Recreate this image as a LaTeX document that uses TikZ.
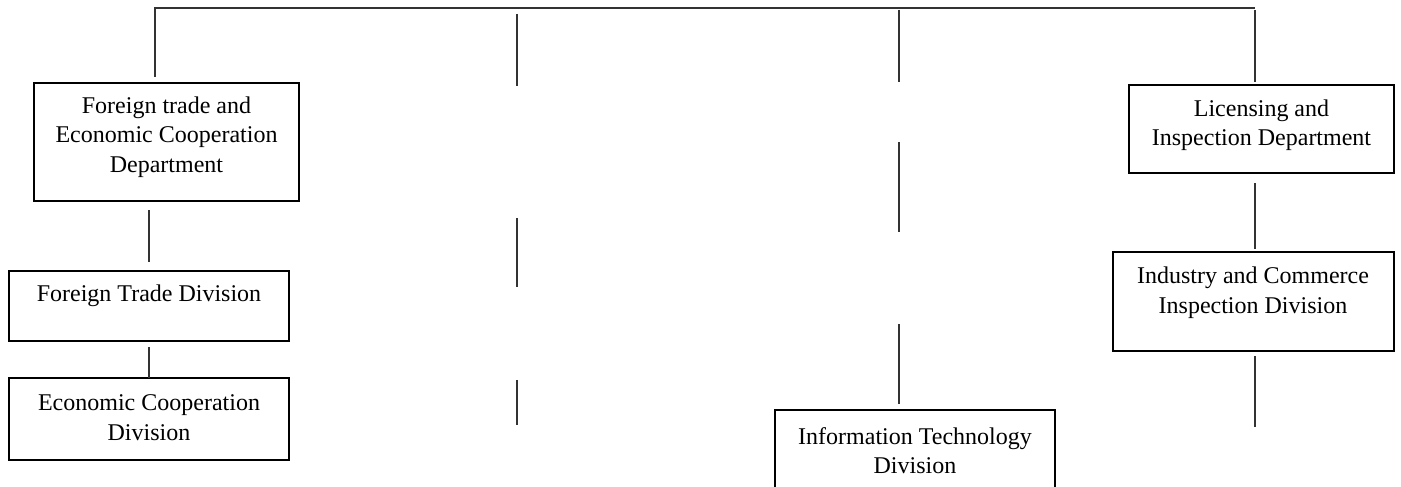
\documentclass[tikz,border=0pt]{standalone}
\usepackage{fontspec}
\setmainfont{Liberation Serif}
\begin{document}
\begin{tikzpicture}[x=1pt,y=-1pt,
  box/.style={draw=black,line width=2.6pt,rectangle,inner sep=0pt},
  lbl/.style={align=center,inner sep=0pt,font=\fontsize{24}{29.5}\selectfont},
  conn/.style={draw=black!80,line width=1.3pt}]
\path[use as bounding box,clip] (0,0) rectangle (1401,487);
\fill[white] (0,0) rectangle (1401,487);
% boxes
\node[box,minimum width=265pt,minimum height=118pt] (b1) at (166.5,142) {};
\node[lbl] (t1) at (166.5,137) {Foreign trade and\\Economic Cooperation\\Department};
\node[box,minimum width=280pt,minimum height=70pt] (b2) at (149,306) {};
\node[lbl] (t2) at (149,296) {Foreign Trade Division};
\node[box,minimum width=280pt,minimum height=82pt] (b3) at (149,419) {};
\node[lbl] (t3) at (149,417.5) {Economic Cooperation\\Division};
\node[box,minimum width=265pt,minimum height=88pt] (b4) at (1261.5,129) {};
\node[lbl] (t4) at (1261.5,125) {Licensing and\\Inspection Department};
\node[box,minimum width=281pt,minimum height=99pt] (b5) at (1253.5,301.5) {};
\node[lbl] (t5) at (1253,292.5) {Industry and Commerce\\Inspection Division};
\node[box,minimum width=280pt,minimum height=100pt] (b6) at (915,460) {};
\node[lbl] (t6) at (915,450.5) {Information Technology\\Division};
% coordinates for free segments
\coordinate (tl) at (155,8);
\coordinate (tr) at (1255,8);
\coordinate (l1) at (155,77);
\coordinate (r1a) at (1255,10);
\coordinate (r1b) at (1255,82);
\coordinate (r2a) at (1255,183);
\coordinate (r2b) at (1255,249);
\coordinate (r3a) at (1255,356);
\coordinate (r3b) at (1255,427);
\coordinate (ma1) at (517,14);  \coordinate (ma2) at (517,86);
\coordinate (ma3) at (517,218); \coordinate (ma4) at (517,287);
\coordinate (ma5) at (517,380); \coordinate (ma6) at (517,425);
\coordinate (mb1) at (899,10);  \coordinate (mb2) at (899,82);
\coordinate (mb3) at (899,142); \coordinate (mb4) at (899,232);
\coordinate (mb5) at (899,324); \coordinate (mb6) at (899,404);
% connectors
\draw[conn] (l1) -- (tl) -- (tr);
\draw[conn] (r1a) -- (r1b);
\draw[conn] (ma1) -- (ma2);
\draw[conn] (ma3) -- (ma4);
\draw[conn] (ma5) -- (ma6);
\draw[conn] (mb1) -- (mb2);
\draw[conn] (mb3) -- (mb4);
\draw[conn] (mb5) -- (mb6);
\draw[conn] (b2.north |- b1.south) ++(0,8) -- ([yshift=8pt]b2.north);
\draw[conn] ([yshift=-5pt]b2.south) -- ([yshift=-1pt]b3.north);
\draw[conn] (r2a) -- (r2b);
\draw[conn] (r3a) -- (r3b);
\end{tikzpicture}
\end{document}
